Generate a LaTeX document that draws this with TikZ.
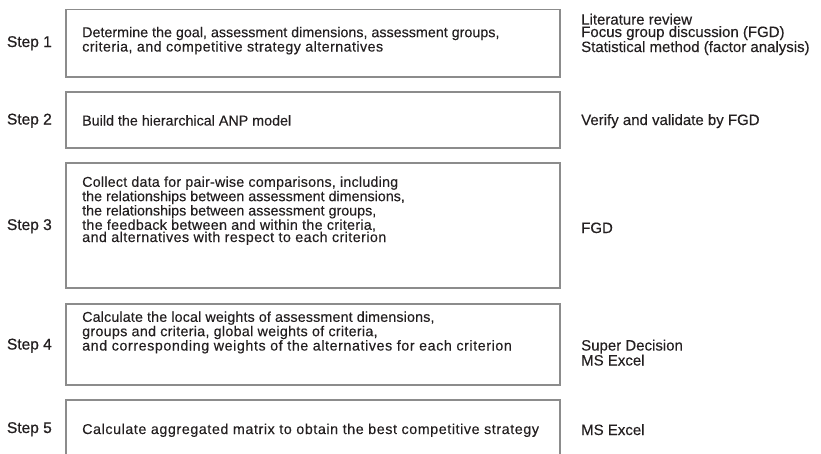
\documentclass[tikz,border=0pt]{standalone}
\usepackage{fontspec}
\setmainfont{Liberation Sans}[FakeBold=0.2]
\newfontfamily\stepfont{Liberation Sans}[FakeBold=0.7]
\newcommand\lsp[2]{{\addfontfeature{LetterSpace=#1}#2}}
\definecolor{txt}{HTML}{231F20}
\definecolor{boxline}{HTML}{8C8C8C}
\begin{document}
\begin{tikzpicture}[x=1pt,y=-1pt,
  stepbox/.style={draw=boxline, line width=1.3pt, fill=white, inner sep=0pt, outer sep=0pt, anchor=north west, minimum width=494pt},
  boxtext/.style={anchor=base west, inner sep=0pt, align=left, text=txt, font=\fontsize{14.3}{12.2}\selectfont},
  tooltext/.style={anchor=base west, inner sep=0pt, align=left, text=txt, font=\fontsize{15}{12.4}\selectfont},
  steplabel/.style={anchor=base east, inner sep=0pt, text=txt, font=\stepfont\fontsize{15.5}{15.5}\selectfont}]
\useasboundingbox (0,0) rectangle (821,453);
\clip (0,0) rectangle (821,453);
\fill[white] (0,0) rectangle (821,453);
% boxes
\node[stepbox, minimum height=67.5pt] (b1) at (66,9.5) {};
\node[stepbox, minimum height=56pt] (b2) at (66,92) {};
\node[stepbox, minimum height=125pt] (b3) at (66,163) {};
\node[stepbox, minimum height=81pt] (b4) at (66,304) {};
\node[stepbox, minimum height=56pt] (b5) at (66,400) {};
% step labels
\node[steplabel] (s1) at (52,47) {Step 1};
\node[steplabel] (s2) at (52,124.5) {Step 2};
\node[steplabel] (s3) at (52,230) {Step 3};
\node[steplabel] (s4) at (52,349.5) {Step 4};
\node[steplabel] (s5) at (52,433) {Step 5};
% box texts (base anchor = baseline of the last line)
\node[boxtext] (t1) at (82,51.5) {Determine the goal, assessment dimensions, assessment groups,\\\lsp{3}{criteria, and competitive strategy alternatives}};
\node[boxtext] (t2) at (82,125.5) {Build the hierarchical ANP model};
\node[boxtext] (t3) at (82,242) {\lsp{1.5}{Collect data for pair-wise comparisons, including}\\the relationships between assessment dimensions,\\the relationships between assessment groups,\\\lsp{2}{the feedback between and within the criteria,}\\\lsp{3}{and alternatives with respect to each criterion}};
\node[boxtext] (t4) at (82,350.5) {\lsp{1}{Calculate the local weights of assessment dimensions,}\\\lsp{2}{groups and criteria, global weights of criteria,}\\\lsp{4}{and corresponding weights of the alternatives for each criterion}};
\node[boxtext] (t5) at (82,434) {\lsp{4}{Calculate aggregated matrix to obtain the best competitive strategy}};
% tools
\node[tooltext] (r1) at (581,52) {Literature review\\Focus group discussion (FGD)\\Statistical method (factor analysis)};
\node[tooltext] (r2) at (581,125) {Verify and validate by FGD};
\node[tooltext] (r3) at (581,233) {FGD};
\node[tooltext] (r4) at (581,365.5) {Super Decision\\MS Excel};
\node[tooltext] (r5) at (581,435) {MS Excel};
\end{tikzpicture}
\end{document}
